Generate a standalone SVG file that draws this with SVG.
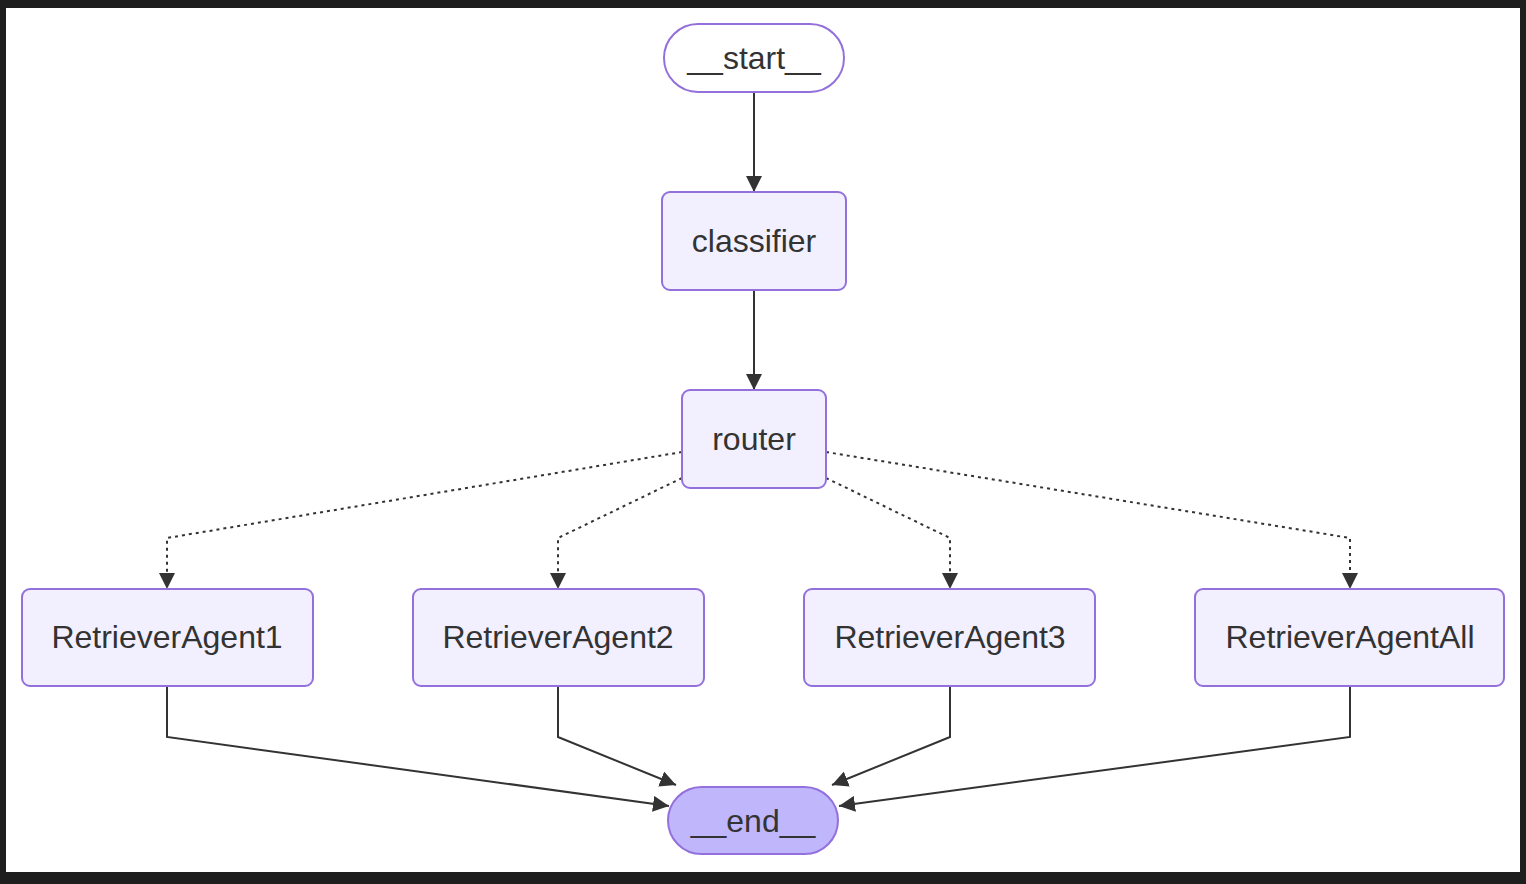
<svg xmlns="http://www.w3.org/2000/svg" width="1526" height="884" viewBox="0 0 1526 884">
<style>
.node rect{fill:#f2f0ff;stroke:#9370DB;stroke-width:2}
.lbl{font-family:"Liberation Sans",Arial,sans-serif;font-size:32px;fill:#333;text-anchor:middle}
.edge{fill:none;stroke:#333;stroke-width:2}
.dot{stroke-dasharray:3 4}
</style>
<defs>
<marker id="arr" viewBox="0 0 10 10" refX="10" refY="5" markerWidth="16" markerHeight="16" markerUnits="userSpaceOnUse" orient="auto">
<path d="M0,0 L10,5 L0,10 z" fill="#333"/>
</marker>
</defs>
<rect x="0" y="0" width="1526" height="884" fill="#1e1e1e"/>
<rect x="6" y="8" width="1514" height="864" fill="#ffffff"/>
<g id="connectors">
<path class="edge" d="M754,92 L754,192" marker-end="url(#arr)"/>
<path class="edge" d="M754,290 L754,390" marker-end="url(#arr)"/>
<path class="edge dot" d="M682,452 L167,538 L167,589" marker-end="url(#arr)"/>
<path class="edge dot" d="M682,478 L558,538 L558,589" marker-end="url(#arr)"/>
<path class="edge dot" d="M826,478 L950,538 L950,589" marker-end="url(#arr)"/>
<path class="edge dot" d="M826,452 L1350,538 L1350,589" marker-end="url(#arr)"/>
<path class="edge" d="M167,686 L167,737 L669,806" marker-end="url(#arr)"/>
<path class="edge" d="M558,686 L558,737 L676,785" marker-end="url(#arr)"/>
<path class="edge" d="M950,686 L950,737 L832,785" marker-end="url(#arr)"/>
<path class="edge" d="M1350,686 L1350,737 L839,806" marker-end="url(#arr)"/>
</g>
<g id="start" class="node">
<rect x="664" y="24" width="180" height="68" rx="34" ry="34" style="fill:#ffffff"/>
<text class="lbl" x="754" y="69">__start__</text>
</g>
<g id="classifier" class="node">
<rect x="662" y="192" width="184" height="98" rx="8" ry="8"/>
<text class="lbl" x="754" y="252">classifier</text>
</g>
<g id="router" class="node">
<rect x="682" y="390" width="144" height="98" rx="8" ry="8"/>
<text class="lbl" x="754" y="450">router</text>
</g>
<g id="RetrieverAgent1" class="node">
<rect x="22" y="589" width="291" height="97" rx="8" ry="8"/>
<text class="lbl" x="167" y="648">RetrieverAgent1</text>
</g>
<g id="RetrieverAgent2" class="node">
<rect x="413" y="589" width="291" height="97" rx="8" ry="8"/>
<text class="lbl" x="558" y="648">RetrieverAgent2</text>
</g>
<g id="RetrieverAgent3" class="node">
<rect x="804" y="589" width="291" height="97" rx="8" ry="8"/>
<text class="lbl" x="950" y="648">RetrieverAgent3</text>
</g>
<g id="RetrieverAgentAll" class="node">
<rect x="1195" y="589" width="309" height="97" rx="8" ry="8"/>
<text class="lbl" x="1350" y="648">RetrieverAgentAll</text>
</g>
<g id="end" class="node">
<rect x="668" y="787" width="170" height="67" rx="33.5" ry="33.5" style="fill:#bfb6fc"/>
<text class="lbl" x="753" y="832">__end__</text>
</g>
</svg>
